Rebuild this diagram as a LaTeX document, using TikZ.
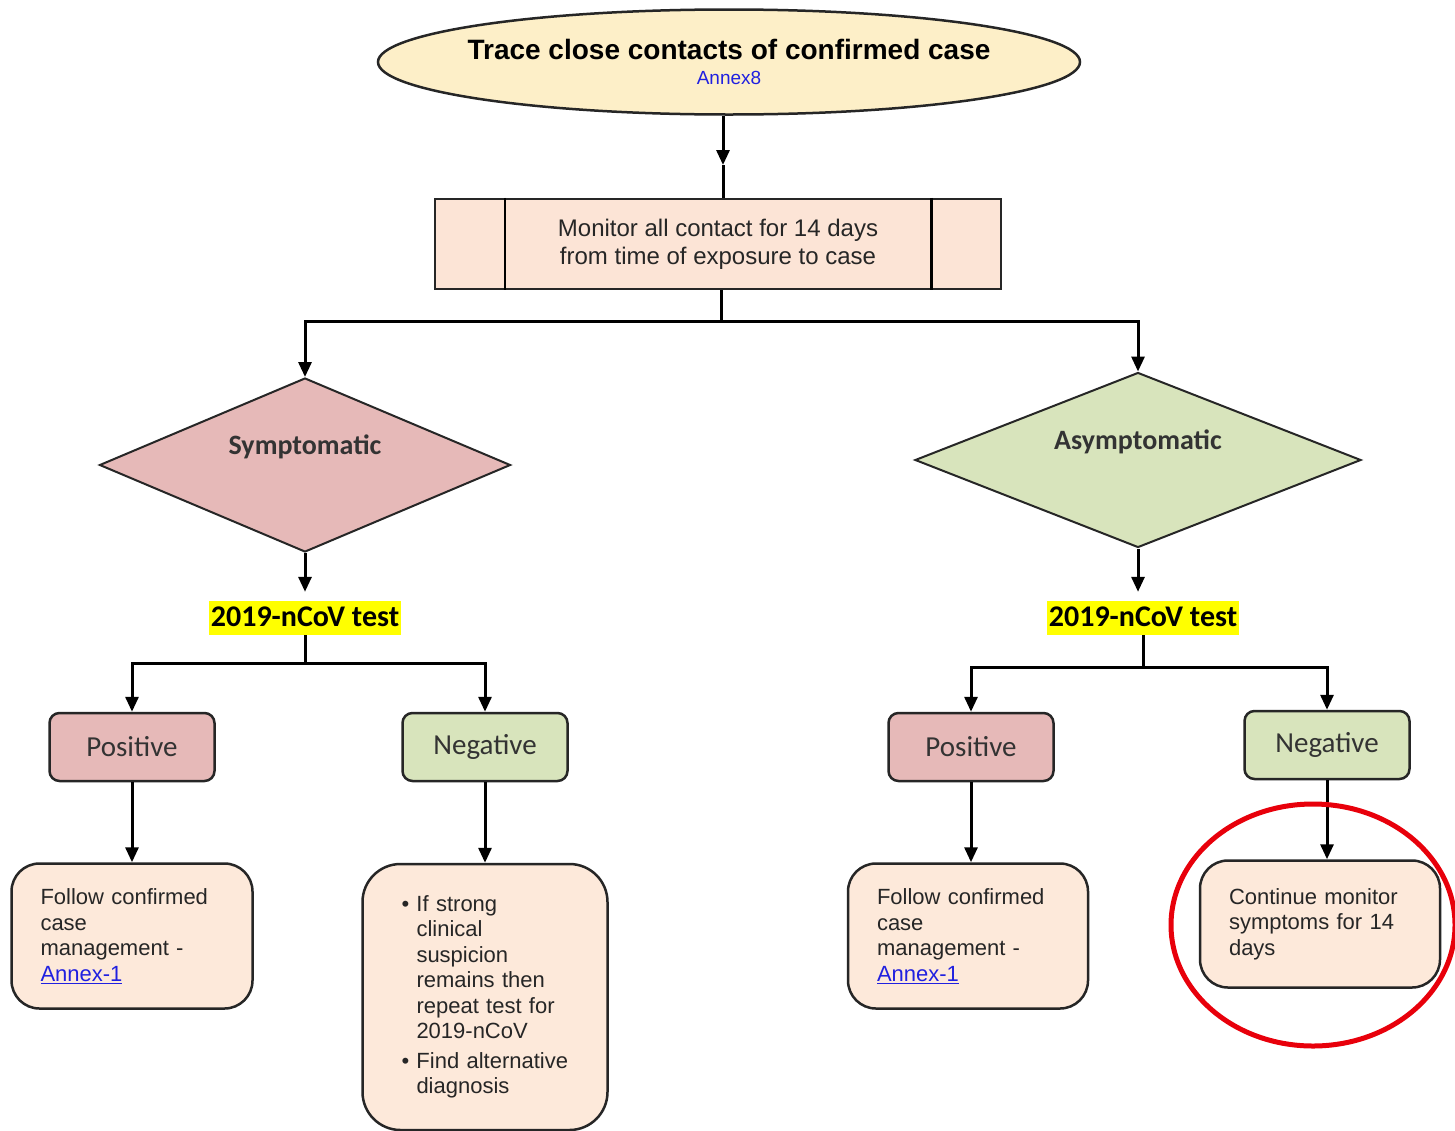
\documentclass[tikz,border=0pt]{standalone}
\usepackage{fontspec}
\setmainfont{Liberation Sans}
\newfontfamily\calibri{Carlito}
\usetikzlibrary{shapes.geometric,arrows.meta}
\definecolor{startfill}{HTML}{FDEFC8}
\definecolor{boxfill}{HTML}{FCE4D6}
\definecolor{pinkfill}{HTML}{E6B9B8}
\definecolor{greenfill}{HTML}{D8E4BC}
\definecolor{notefill}{HTML}{FDE9DA}
\definecolor{marker}{HTML}{FFFF00}
\definecolor{linkblue}{HTML}{2020E0}
\definecolor{ringred}{HTML}{E8000B}
\definecolor{edgegray}{HTML}{262626}
\begin{document}
\begin{tikzpicture}[x=1pt,y=-1pt,
    start/.style ={ellipse, draw=edgegray, line width=2.5pt, fill=startfill, minimum width=702pt, minimum height=105pt, inner sep=0pt, align=center},
    process/.style ={rectangle, draw=edgegray, line width=2.5pt, fill=boxfill, minimum width=566pt, minimum height=90pt, align=center, text=black!85, font=\fontsize{24}{28}\selectfont},
    decision/.style ={diamond, draw=edgegray, line width=2pt, inner sep=0pt},
    testlabel/.style ={fill=marker, inner xsep=2pt, inner ysep=2pt, text height=23pt, text depth=7pt, font=\calibri\bfseries\fontsize{30}{34}\selectfont},
    outcome/.style ={rectangle, rounded corners=10pt, draw=edgegray, line width=2.5pt, minimum width=165pt, minimum height=68pt, text=black!80, font=\calibri\fontsize{29}{34}\selectfont},
    note/.style ={rectangle, rounded corners=28pt, draw=edgegray, line width=2.5pt, fill=notefill, inner xsep=29pt, align=left, text=black!85, font=\fontsize{22}{25.5}\selectfont},
    link/.style ={line width=3pt},
    flow/.style ={line width=3pt, -{Triangle[length=15pt,width=13pt]}}]
   \useasboundingbox[fill=white] (0,0) rectangle (1455,1130);
   \clip (0,0) rectangle (1455,1130);
   \node[start] (trace) at (729,62) {\makebox[0pt]{\bfseries\fontsize{28}{30}\selectfont Trace close contacts of confirmed case}\\[10pt]\makebox[0pt]{\fontsize{19}{20}\selectfont\color{linkblue}Annex8}};
   \node[process] (monitor) at (718,244) {Monitor all contact for 14 days\\from time of exposure to case};
   \draw[link, line width=2.5pt] ([xshift=71pt]monitor.north west) -- ([xshift=71pt]monitor.south west);
   \draw[link, line width=2.5pt] ([xshift=-71pt]monitor.north east) -- ([xshift=-71pt]monitor.south east);
   \coordinate (tip0) at (723,165);
   \draw[flow] (tip0 |- trace.south) -- (tip0);
   \draw[link] (tip0) -- (tip0 |- monitor.north);
   \node[decision, fill=pinkfill, minimum width=411pt, minimum height=174pt,
     label={[yshift=18pt, font=\calibri\bfseries\fontsize{28}{32}\selectfont, text=black!80]center:Symptomatic}] (symp) at (305,465) {};
   \node[decision, fill=greenfill, minimum width=446pt, minimum height=175pt,
     label={[yshift=18pt, font=\calibri\bfseries\fontsize{28}{32}\selectfont, text=black!80]center:Asymptomatic}] (asymp) at (1138,460) {};
   \coordinate (split0) at (721,321);
   \draw[link] (split0 |- monitor.south) -- (split0);
   \draw[flow] (split0) -| (symp);
   \draw[flow] (split0) -| (asymp);
   \node[testlabel] (test1) at (305,618) {2019-nCoV test};
   \node[testlabel] (test2) at (1143,618) {2019-nCoV test};
   \draw[flow, shorten >=9pt] (symp) -- (symp |- test1.north);
   \draw[flow, shorten >=9pt] (asymp) -- (asymp |- test2.north);
   \node[outcome, fill=pinkfill] (pos1) at (132,747) {Positive};
   \node[outcome, fill=greenfill] (neg1) at (485,747) {Negative};
   \node[outcome, fill=pinkfill] (pos2) at (971,747) {Positive};
   \node[outcome, fill=greenfill] (neg2) at (1327,745) {Negative};
   \coordinate (fork1) at (305,663);
   \coordinate (fork2) at (1143,667);
   \draw[link] (test1) -- (fork1);
   \draw[link] (test2) -- (fork2);
   \draw[flow] (fork1) -| (pos1);
   \draw[flow] (fork1) -| (neg1);
   \draw[flow] (fork2) -| (pos2);
   \draw[flow] (fork2) -| (neg2);
   \node[note, text width=183pt, minimum height=145pt] (res1) at (132,936) {Follow confirmed\\case\\management -\\{\color{linkblue}\underline{Annex-1}}};
   \node[note, text width=167pt, inner xsep=39pt, rounded corners=38pt, minimum height=266pt] (res2) at (485,997) {\makebox[15pt][l]{\textbullet}If strong\\
     \hspace*{15pt}clinical\\
     \hspace*{15pt}suspicion\\
     \hspace*{15pt}remains then\\
     \hspace*{15pt}repeat test for\\
     \hspace*{15pt}2019-nCoV\\[4pt]
     \makebox[15pt][l]{\textbullet}Find alternative\\
     \hspace*{15pt}diagnosis};
   \node[note, text width=182pt, minimum height=145pt] (res3) at (968,936) {Follow confirmed\\case\\management -\\{\color{linkblue}\underline{Annex-1}}};
   \node[note, text width=182pt, minimum height=127pt] (res4) at (1320,924) {Continue monitor\\symptoms for 14\\days\\[6pt]};
   \draw[flow] (pos1) -- (res1);
   \draw[flow] (neg1) -- (res2);
   \draw[flow] (pos2) -- (pos2 |- res3.north);
   \draw[flow] (neg2) -- (neg2 |- res4.north);
   \draw[ringred, line width=5pt] (1313,925) ellipse [x radius=142pt, y radius=121pt];
\end{tikzpicture}
\end{document}
